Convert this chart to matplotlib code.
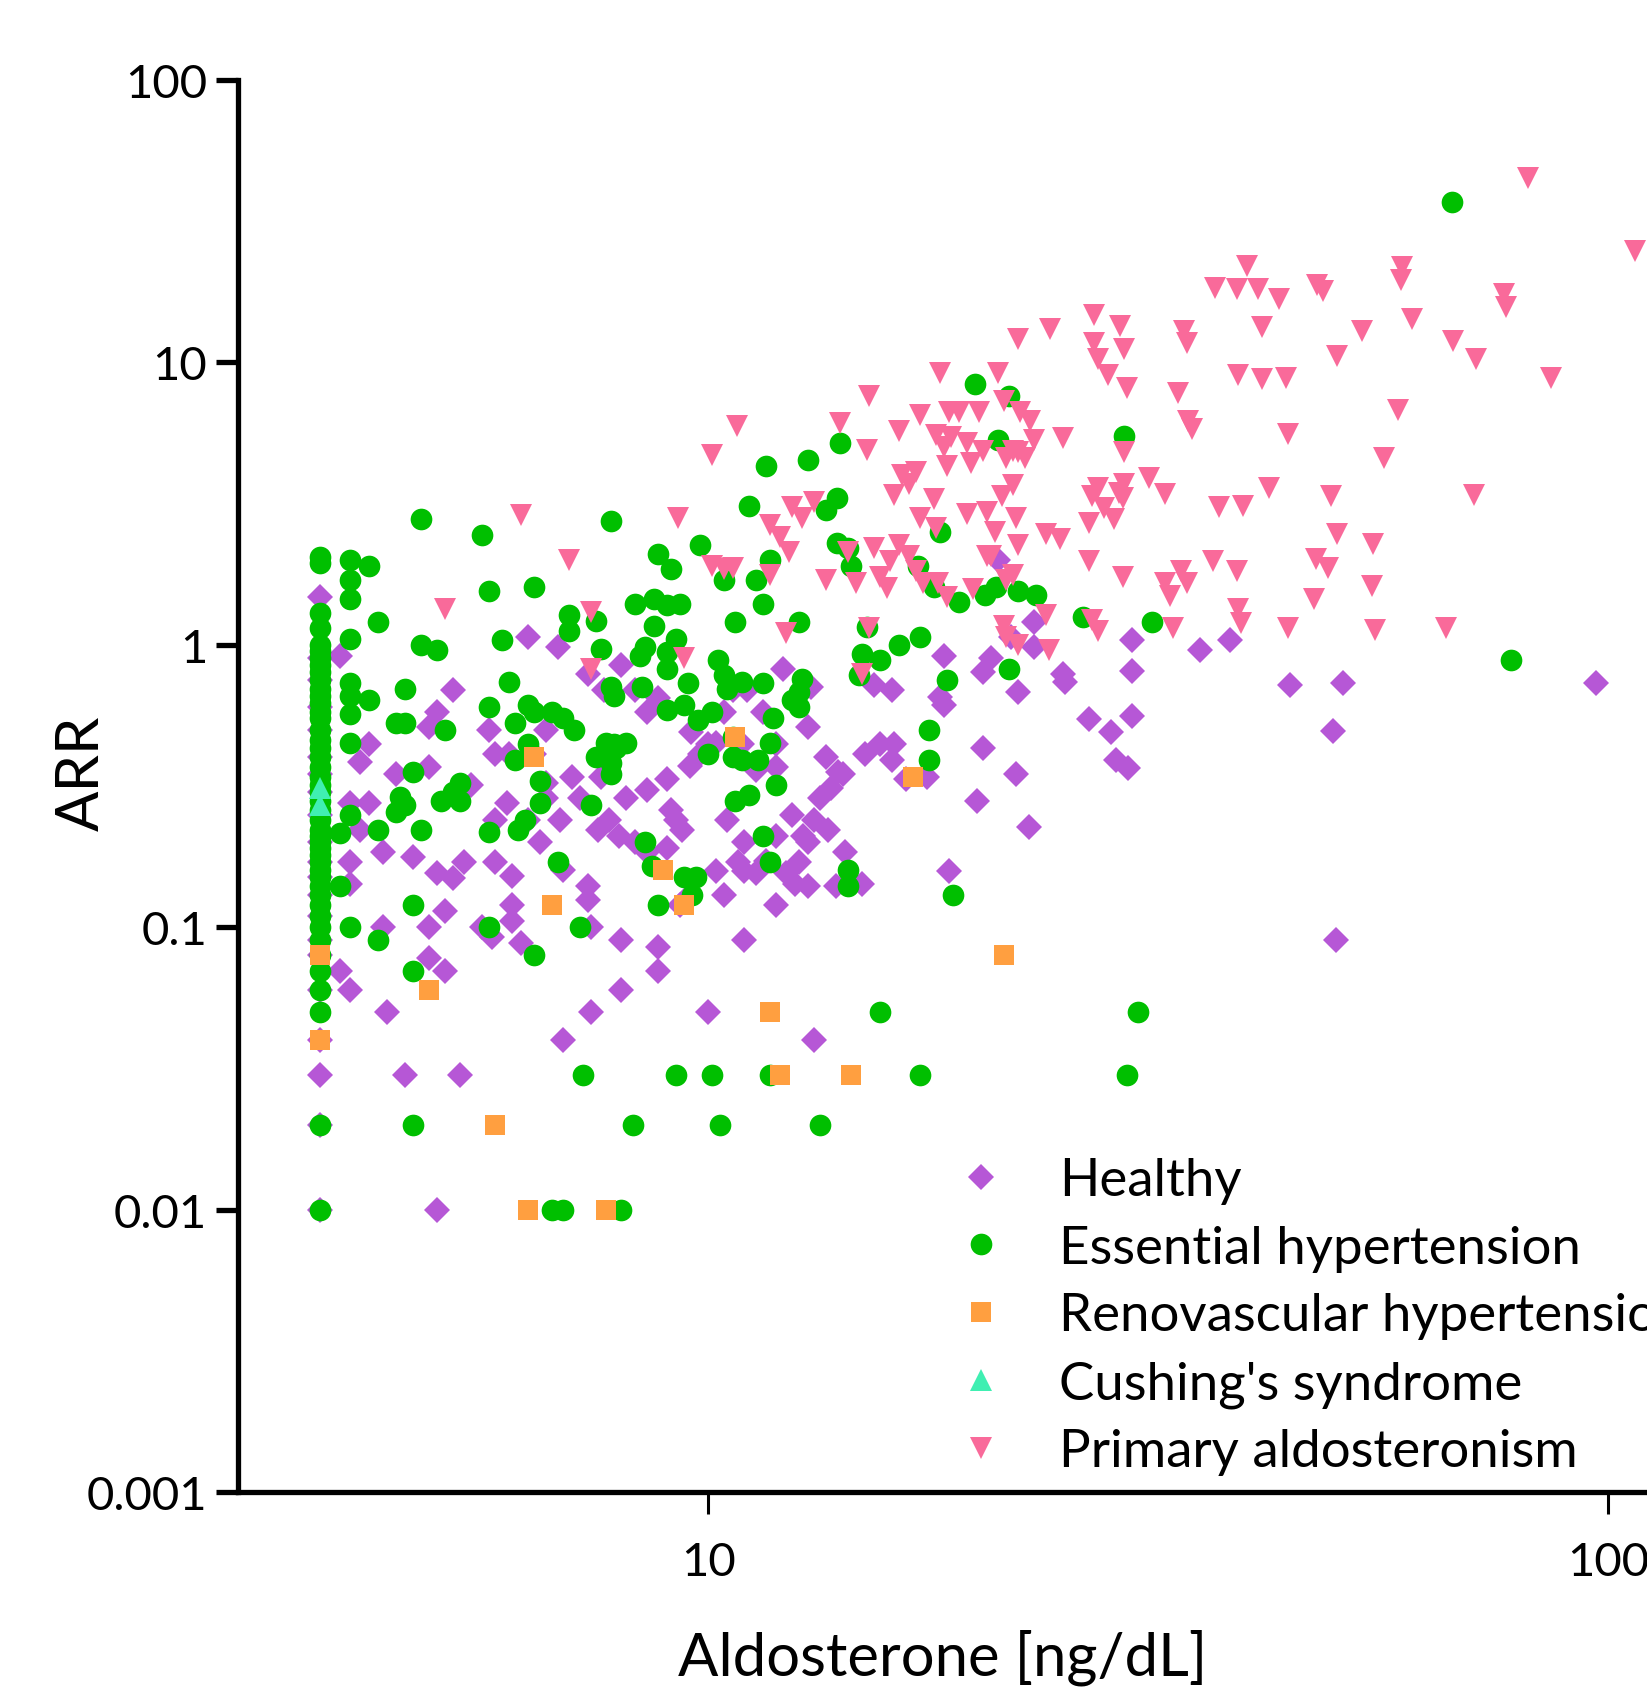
import matplotlib
matplotlib.use("Agg")
import matplotlib.pyplot as plt
from matplotlib.ticker import FixedLocator, NullLocator, FixedFormatter

plt.rcParams['font.family'] = ['Lato', 'DejaVu Sans']

# group names and colours
groups = ['Healthy', 'Essential hypertension', 'Renovascular hypertension',
          "Cushing's syndrome", 'Primary aldosteronism']
colors = ['#B657D6', '#00BF00', '#FF9F40', '#40EFB2', '#F96A9A']
markers = ['D', 'o', 's', '^', 'v']
msizes = [13.4, 15.6, 15.0, 15.6, 15.6]

# (aldosterone ng/dL, ARR)
healthy = [
    (3.9, 0.91), (3.7, 1.48), (5.2, 0.69), (5.0, 0.58), (4.9, 0.51), (4.2, 0.445), (4.1, 0.385),
    (4.5, 0.35), (4.9, 0.37), (5.45, 0.32), (5.8, 0.41), (5.7, 0.5), (6.0, 0.41), (6.4, 0.41),
    (6.6, 0.5), (6.3, 1.07), (6.8, 0.98), (7.35, 0.79), (7.65, 0.69), (8.0, 0.85), (8.3, 0.69),
    (8.55, 0.58), (8.8, 0.65), (9.57, 0.49), (10.0, 0.445), (10.4, 0.58), (10.9, 0.445),
    (11.3, 0.36), (11.9, 0.37), (12.1, 0.82), (13.0, 0.71), (12.9, 0.51), (13.5, 0.40),
    (13.95, 0.355), (13.3, 0.287), (13.1, 0.24), (13.6, 0.22), (12.9, 0.2), (12.75, 0.21),
    (12.4, 0.25), (12.6, 0.17), (11.9, 0.21), (12.2, 0.155), (11.3, 0.155), (10.95, 0.2),
    (10.5, 0.24), (10.8, 0.17), (10.4, 0.13), (10.95, 0.09), (11.9, 0.12), (12.5, 0.142),
    (12.9, 0.14), (13.85, 0.14), (14.8, 0.142), (14.2, 0.185), (13.7, 0.31), (14.1, 0.35),
    (14.95, 0.41), (15.5, 0.445), (16.0, 0.39), (16.6, 0.336), (17.5, 0.34), (16.1, 0.445),
    (15.3, 0.72), (18.3, 0.915), (20.6, 0.9), (20.2, 0.8), (22.1, 0.68), (23.0, 1.2), (23.0, 0.98),
    (21.7, 1.07), (24.8, 0.79), (24.9, 0.74), (29.6, 1.04), (29.6, 0.81), (26.5, 0.545),
    (29.6, 0.56), (28.0, 0.49), (28.4, 0.39), (29.3, 0.365), (35.2, 0.96), (38.0, 1.04),
    (44.3, 0.72), (50.7, 0.735), (49.5, 0.495), (96.8, 0.735), (20.2, 0.43), (22.0, 0.35),
    (19.9, 0.28), (22.7, 0.227), (18.5, 0.158), (18.3, 0.61), (18.1, 0.655), (16.0, 0.69),
    (13.1, 0.04), (10.0, 0.05), (8.0, 0.06), (8.8, 0.07), (6.9, 0.04), (7.4, 0.05), (7.4, 0.1),
    (7.35, 0.125), (7.35, 0.14), (6.9, 0.16), (6.5, 0.2), (6.3, 0.24), (5.97, 0.275), (5.8, 0.24),
    (5.8, 0.17), (6.05, 0.152), (6.05, 0.12), (6.05, 0.105), (6.2, 0.088), (5.75, 0.092),
    (5.6, 0.1), (5.35, 0.17), (5.0, 0.155), (4.7, 0.177), (4.35, 0.185), (4.2, 0.275),
    (4.0, 0.275), (4.1, 0.22), (4.0, 0.17), (4.0, 0.142), (4.35, 0.1), (4.9, 0.078), (5.1, 0.07),
    (4.9, 0.1), (5.1, 0.114), (5.2, 0.149), (3.9, 0.07), (4.0, 0.06), (4.4, 0.05), (3.7, 0.03),
    (4.6, 0.03), (5.3, 0.03), (5.0, 0.01), (3.7, 0.02), (3.7, 0.01), (49.8, 0.09), (8.0, 0.09),
    (8.8, 0.085), (9.3, 0.12), (9.55, 0.13), (10.2, 0.158), (10.95, 0.158), (11.6, 0.172),
    (8.55, 0.185), (9.0, 0.19), (8.3, 0.2), (7.95, 0.21), (7.55, 0.22), (7.75, 0.24), (8.1, 0.287),
    (8.55, 0.305), (9.1, 0.26), (9.2, 0.24), (9.35, 0.22), (9.0, 0.336), (9.55, 0.373),
    (9.8, 0.41), (10.2, 0.45), (10.65, 0.69), (11.05, 0.69), (11.5, 0.58), (11.9, 0.445),
    (7.6, 0.34), (7.05, 0.34), (6.6, 0.325), (7.2, 0.287), (6.85, 0.24), (6.6, 0.287), (21.0, 2.0),
    (3.7, 0.9), (3.7, 0.75), (3.7, 0.6), (3.7, 0.5), (3.7, 0.4), (3.7, 0.35), (3.7, 0.3),
    (3.7, 0.25), (3.7, 0.2), (3.7, 0.17), (3.7, 0.15), (3.7, 0.13), (3.7, 0.11), (3.7, 0.09),
    (3.7, 0.08), (3.7, 0.06), (3.7, 0.04),
]

essential = [
    (67.0, 37.0), (19.8, 8.4), (21.6, 7.6), (21.0, 5.3), (29.0, 5.5), (14.0, 5.2), (12.9, 4.5),
    (11.6, 4.3), (11.1, 3.1), (13.9, 3.3), (13.5, 3.0), (4.8, 2.8), (5.6, 2.45), (7.8, 2.75),
    (9.8, 2.25), (8.8, 2.1), (9.1, 1.85), (11.7, 2.0), (13.9, 2.3), (14.3, 2.2), (14.4, 1.9),
    (18.1, 2.5), (17.1, 1.9), (17.8, 1.6), (19.0, 1.42), (20.3, 1.5), (20.9, 1.6), (22.1, 1.55),
    (23.1, 1.5), (26.1, 1.25), (31.1, 1.2), (10.4, 1.7), (11.3, 1.7), (11.5, 1.4), (10.7, 1.2),
    (12.6, 1.2), (21.6, 0.82), (78.0, 0.88), (17.2, 1.07), (16.3, 1.0), (15.0, 1.16), (14.8, 0.93),
    (15.5, 0.88), (14.7, 0.78), (18.4, 0.75), (17.6, 0.5), (17.6, 0.39), (18.7, 0.13), (17.2, 0.03),
    (15.5, 0.05), (30.0, 0.05), (29.2, 0.03), (14.3, 0.14), (14.3, 0.16), (13.3, 0.02),
    (4.0, 2.0), (4.2, 1.9), (4.0, 1.7), (4.0, 1.45), (4.3, 1.2), (4.0, 1.05), (4.8, 1.0),
    (5.0, 0.96), (5.9, 1.04), (5.7, 1.55), (6.4, 1.6), (4.6, 0.7), (4.0, 0.73), (4.0, 0.66),
    (4.2, 0.64), (4.0, 0.57), (4.0, 0.45), (4.5, 0.53), (4.6, 0.53), (5.1, 0.5), (5.7, 0.6),
    (6.0, 0.74), (6.3, 0.61), (6.1, 0.53), (6.4, 0.58), (6.7, 0.58), (6.9, 0.55), (7.0, 1.28),
    (7.5, 1.21), (7.0, 1.12), (7.6, 0.97), (8.3, 1.4), (8.7, 1.45), (9.0, 1.38), (8.5, 0.98),
    (8.4, 0.91), (9.2, 1.05), (9.3, 1.4), (8.7, 1.17), (9.0, 0.94), (9.0, 0.82), (9.5, 0.73),
    (9.4, 0.61), (9.0, 0.59), (8.45, 0.71), (7.8, 0.71), (7.85, 0.66), (7.1, 0.5), (7.7, 0.45),
    (7.85, 0.445), (7.8, 0.38), (7.8, 0.35), (8.1, 0.45), (7.5, 0.4), (7.9, 0.43), (10.25, 0.88),
    (10.4, 0.78), (10.5, 0.70), (10.9, 0.74), (11.5, 0.73), (12.6, 0.68), (12.4, 0.64), (12.6, 0.6),
    (12.7, 0.755), (11.8, 0.55), (11.7, 0.45), (10.65, 0.47), (10.1, 0.58), (9.75, 0.54),
    (10.0, 0.41), (10.9, 0.39), (10.65, 0.40), (11.35, 0.39), (11.9, 0.32), (11.1, 0.295),
    (10.7, 0.28), (11.5, 0.21), (11.7, 0.17), (8.5, 0.2), (8.66, 0.165), (9.4, 0.15), (9.7, 0.15),
    (8.8, 0.12), (9.6, 0.13), (6.8, 0.17), (7.4, 0.27), (6.5, 0.33), (6.1, 0.39), (6.3, 0.445),
    (6.5, 0.275), (6.25, 0.24), (6.15, 0.22), (5.7, 0.217), (5.3, 0.325), (5.2, 0.3), (5.3, 0.28),
    (4.7, 0.355), (4.55, 0.29), (4.6, 0.27), (4.5, 0.255), (4.3, 0.22), (4.0, 0.25), (3.9, 0.215),
    (3.9, 0.14), (4.0, 0.1), (4.3, 0.09), (4.7, 0.12), (4.7, 0.07), (5.7, 0.1), (6.4, 0.08),
    (7.2, 0.1), (7.25, 0.03), (8.25, 0.02), (9.2, 0.03), (10.1, 0.03), (10.3, 0.02), (11.7, 0.03),
    (4.7, 0.02), (6.7, 0.01), (6.9, 0.01), (8.0, 0.01), (4.8, 0.22), (5.05, 0.28),
    (3.7, 2.05), (3.7, 1.95), (3.7, 1.3), (3.7, 1.15), (3.7, 1.0), (3.7, 0.95), (3.7, 0.9),
    (3.7, 0.85), (3.7, 0.8), (3.7, 0.75), (3.7, 0.7), (3.7, 0.66), (3.7, 0.62), (3.7, 0.58),
    (3.7, 0.55), (3.7, 0.5), (3.7, 0.46), (3.7, 0.43), (3.7, 0.4), (3.7, 0.37), (3.7, 0.34),
    (3.7, 0.32), (3.7, 0.3), (3.7, 0.28), (3.7, 0.26), (3.7, 0.24), (3.7, 0.22), (3.7, 0.21),
    (3.7, 0.2), (3.7, 0.19), (3.7, 0.18), (3.7, 0.17), (3.7, 0.16), (3.7, 0.15), (3.7, 0.14),
    (3.7, 0.13), (3.7, 0.12), (3.7, 0.11), (3.7, 0.1), (3.7, 0.09), (3.7, 0.08), (3.7, 0.07),
    (3.7, 0.06), (3.7, 0.05), (3.7, 0.02), (3.7, 0.01),
]

renovascular = [
    (3.7, 0.08), (3.7, 0.04), (4.9, 0.06), (5.8, 0.02), (6.3, 0.01), (7.7, 0.01), (6.4, 0.4),
    (6.7, 0.12), (8.9, 0.16), (9.4, 0.12), (10.7, 0.47), (16.9, 0.34), (11.7, 0.05), (12.0, 0.03),
    (14.4, 0.03), (21.3, 0.08),
]

cushing = [(3.7, 0.31), (3.7, 0.27)]

primary = [
    (81.5, 45.0), (107.0, 24.9), (39.7, 22.0), (36.6, 18.3), (38.7, 18.2), (40.8, 18.2),
    (43.1, 16.8), (47.5, 18.8), (48.2, 17.9), (59.0, 21.7), (58.9, 19.5), (26.8, 14.7),
    (28.7, 13.5), (24.0, 13.1), (33.8, 12.9), (34.0, 11.7), (41.2, 13.4), (53.2, 12.9),
    (60.5, 14.2), (67.2, 11.9), (76.5, 17.4), (77.0, 15.7), (71.2, 10.3), (49.9, 10.5),
    (26.8, 11.7), (27.1, 10.3), (29.0, 11.2), (22.1, 12.1), (21.0, 9.2), (27.8, 9.0), (29.2, 8.1),
    (38.8, 9.0), (41.2, 8.7), (43.8, 8.8), (86.4, 8.8), (33.3, 7.8), (34.1, 6.2), (34.5, 5.8),
    (21.3, 7.3), (22.2, 6.7), (22.8, 6.2), (18.5, 6.7), (17.2, 6.5), (16.3, 5.7), (15.1, 7.6),
    (14.0, 6.1), (15.0, 4.9), (18.1, 9.2), (19.0, 6.7), (20.0, 6.7), (19.4, 5.2), (18.6, 5.45),
    (17.9, 5.55), (18.3, 5.0), (18.4, 4.3), (19.6, 4.4), (20.2, 4.86), (21.4, 4.57), (21.8, 4.86),
    (17.0, 4.1), (16.4, 4.0), (16.7, 3.7), (16.1, 3.4), (10.1, 4.7), (10.75, 5.95), (24.8, 5.4),
    (23.0, 5.3), (22.5, 4.57), (22.1, 4.8), (44.1, 5.6), (58.4, 6.8), (56.3, 4.6), (70.9, 3.4),
    (39.3, 3.1), (36.9, 3.08), (42.0, 3.6), (32.2, 3.42), (30.9, 3.9), (29.0, 3.7), (28.6, 3.45),
    (27.1, 3.6), (26.7, 3.36), (27.5, 3.05), (28.9, 3.3), (28.2, 2.8), (26.5, 2.7), (26.5, 1.98),
    (28.9, 1.74), (24.6, 2.37), (23.7, 2.47), (22.0, 2.82), (20.8, 2.5), (20.4, 2.07), (22.1, 2.26),
    (17.8, 3.27), (17.2, 2.82), (17.9, 2.6), (19.4, 2.9), (20.4, 2.95), (21.2, 3.36), (21.8, 3.67),
    (13.1, 3.2), (12.4, 3.08), (12.7, 2.82), (11.7, 2.65), (12.0, 2.4), (12.3, 2.13), (9.26, 2.82),
    (6.2, 2.87), (7.0, 2.0), (5.1, 1.34), (7.4, 1.31), (7.4, 0.82), (9.4, 0.9), (10.1, 1.9),
    (10.4, 1.85), (10.65, 1.87), (11.7, 1.77), (13.5, 1.7), (14.3, 2.13), (14.6, 1.66), (15.3, 2.2),
    (16.3, 2.26), (15.9, 1.98), (16.7, 2.07), (17.0, 1.82), (17.3, 1.66), (15.5, 1.74), (15.8, 1.59),
    (15.1, 1.15), (14.8, 0.79), (12.2, 1.1), (20.6, 2.07), (21.8, 1.77), (21.3, 1.17), (21.4, 1.07),
    (22.1, 1.0), (23.9, 0.957), (23.7, 1.28), (26.7, 1.22), (27.1, 1.12), (29.0, 4.8), (32.2, 1.66),
    (33.5, 1.82), (34.0, 1.66), (32.6, 1.49), (32.8, 1.15), (36.4, 1.98), (38.7, 1.82), (38.8, 1.34),
    (39.1, 1.19), (44.1, 1.15), (47.4, 2.02), (47.1, 1.45), (48.8, 1.87), (50.0, 2.47), (54.8, 2.28),
    (54.7, 1.61), (55.1, 1.13), (49.2, 3.36), (66.1, 1.15), (21.4, 1.69), (19.7, 1.58), (18.0, 1.66),
    (18.4, 1.48),
]

data = [healthy, essential, renovascular, cushing, primary]

y_ticks = [0.001, 0.01, 0.1, 1, 10, 100]
y_labels = ['0.001', '0.01', '0.1', '1', '10', '100']
x_ticks = [10, 100]
x_labels = ['10', '100']

fig = plt.figure(figsize=(16.47, 16.90), dpi=100)
ax = fig.add_axes([0.1443, 0.11657, 0.9967, 0.8355])

for pts, name, c, m, ms in zip(data, groups, colors, markers, msizes):
    xs, ys = zip(*pts)
    ax.plot(xs, ys, linestyle='none', marker=m, markersize=ms, color=c,
            markeredgewidth=0, label=name, clip_on=True)

ax.set_xscale('log')
ax.set_yscale('log')
ax.set_xlim(3, 200)
ax.set_ylim(0.001, 100)

ax.yaxis.set_major_locator(FixedLocator(y_ticks))
ax.yaxis.set_major_formatter(FixedFormatter(y_labels))
ax.yaxis.set_minor_locator(NullLocator())
ax.xaxis.set_major_locator(FixedLocator(x_ticks))
ax.xaxis.set_major_formatter(FixedFormatter(x_labels))
ax.xaxis.set_minor_locator(NullLocator())

for s in ['top', 'right']:
    ax.spines[s].set_visible(False)
for s in ['left', 'bottom']:
    ax.spines[s].set_linewidth(3.8)

ax.tick_params(axis='y', direction='out', length=16, width=3.8, pad=6, labelsize=34)
ax.tick_params(axis='x', direction='out', length=16, width=2.2, pad=19, labelsize=34)

ax.set_xlabel('Aldosterone [ng/dL]', fontsize=43)
ax.xaxis.set_label_coords(0.4297, -0.097)
ax.set_ylabel('ARR', fontsize=43)
ax.yaxis.set_label_coords(-0.0784, 0.51)

ax.legend(loc='upper left', bbox_to_anchor=(0.5796, 0.3146), bbox_transform=fig.transFigure,
          frameon=False, fontsize=38, borderpad=0, borderaxespad=0, handlelength=1.0,
          handletextpad=0.98, labelspacing=0.39, numpoints=1)

fig.savefig('out.png', dpi=100)
